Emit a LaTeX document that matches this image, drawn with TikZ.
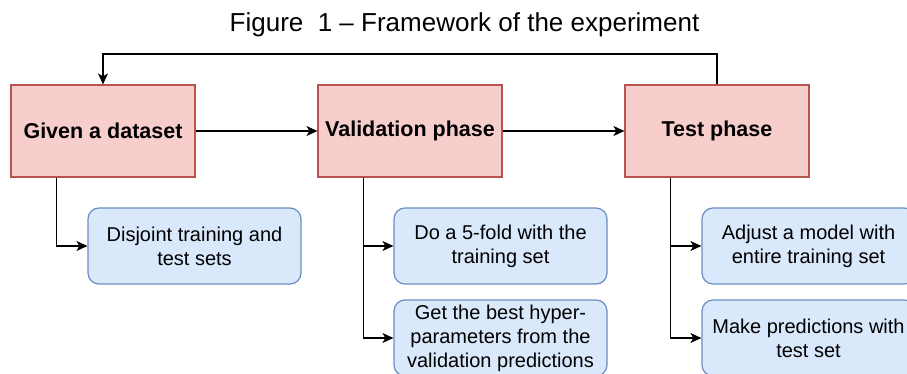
\documentclass[tikz,border=0pt]{standalone}
\usepackage{fontspec}
\setmainfont{Liberation Sans}
\usetikzlibrary{arrows.meta,calc}
\definecolor{redfill}{HTML}{F8CECC}
\definecolor{redline}{HTML}{B85450}
\definecolor{bluefill}{HTML}{DAE8FC}
\definecolor{blueline}{HTML}{6C8EBF}
\tikzset{
  phase/.style={draw=redline, fill=redfill, line width=1.2pt, minimum width=184pt, minimum height=92pt, inner sep=0pt, font=\fontsize{21.5}{25}\selectfont\bfseries},
  task/.style={draw=blueline, fill=bluefill, line width=1.2pt, rounded corners=11pt, minimum width=213pt, minimum height=76pt, inner sep=0pt, align=center, font=\fontsize{20}{24}\selectfont},
  conn/.style={line width=1.3pt, draw=black, -{Stealth[length=11pt,width=10pt,inset=3pt]}}
}
\begin{document}
\begin{tikzpicture}[x=1pt,y=-1pt]
\clip (0,0) rectangle (907,374);
\useasboundingbox (0,0) rectangle (907,374);
\node[anchor=base, font=\fontsize{26}{30}\selectfont] (title) at (464.5,32) {Figure\ \ 1 -- Framework of the experiment};
\node[phase] (g1) at (103,131) {Given a dataset};
\node[phase] (g2) at (410,131) {Validation phase};
\node[phase] (g3) at (717,131) {Test phase};
\node[task] (a) at (194.5,246) {Disjoint training and\\test sets};
\node[task] (b) at (500.5,246) {Do a 5-fold with the\\training set};
\node[task] (c) at (500.5,338) {Get the best hyper-\\parameters from the\\validation predictions};
\node[task] (d) at (808.5,246) {Adjust a model with\\entire training set};
\node[task] (e) at (808.5,338) {Make predictions with\\test set};
\coordinate (top) at (0,54);
\coordinate (v1) at ([xshift=46pt]g1.south west);
\coordinate (v2) at ([xshift=46pt]g2.south west);
\coordinate (v3) at ([xshift=46pt]g3.south west);
\draw[conn] (g1) -- (g2);
\draw[conn] (g2) -- (g3);
\draw[conn] (g3.north) -- (g3.north |- top) -- (g1.north |- top) -- (g1.north);
\draw[conn] (v1) |- (a.west);
\draw[conn] (v2) |- (b.west);
\draw[conn] (v2) |- (c.west);
\draw[conn] (v3) |- (d.west);
\draw[conn] (v3) |- (e.west);
\end{tikzpicture}
\end{document}
